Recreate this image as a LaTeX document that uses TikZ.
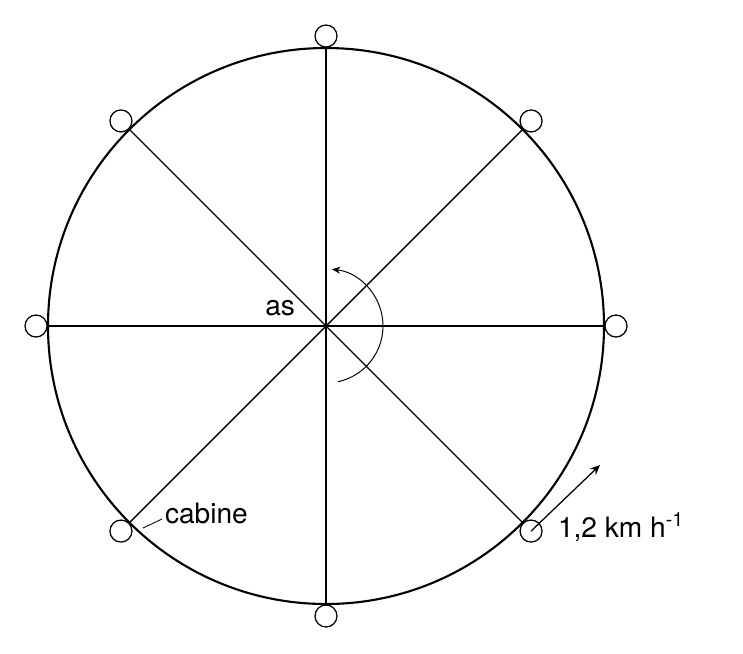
\documentclass[tikz,border=0pt]{standalone}
\usepackage{fontspec}
\setmainfont{TeX Gyre Heros}
\usetikzlibrary{arrows.meta}
\begin{document}
\begin{tikzpicture}[x=0.025cm,y=-0.025cm,inner sep=0pt,outer sep=0pt,
cabin/.style={draw,circle,minimum size=0.55cm,line width=0.9pt,fill=white},
spoke/.style={line width=1pt},
ring/.style={line width=1.5pt},
lbl/.style={font=\fontsize{20}{24}\selectfont}]
\useasboundingbox (0,0) rectangle (743,653);
\coordinate (C) at (326,326);
\draw[ring] (C) circle[radius=278];
% spokes and cabins
\foreach \a in {0,45,...,315} {
  \path (C) ++(\a:290) node[cabin] (cab\a) {};
  \draw[spoke] (C) -- (cab\a);
}
\fill (C) circle[radius=2.2];
% turning sense
\draw[line width=0.7pt,-{Stealth[length=6pt,width=5pt]}] (C) ++(78:57) arc[start angle=78,end angle=-84,radius=57];
\node[lbl,anchor=base east] (axis) at (295,315) {as};
% cabine
\node[lbl,anchor=base west] (cabtxt) at (165,523) {cabine};
\draw[line width=0.6pt] ([shift={(11,-3)}]cab135.east) -- ([shift={(-3,-4)}]cabtxt.base west);
% speed
\coordinate (vtip) at (600,465);
\draw[line width=0.9pt,-{Stealth[length=7pt,width=6pt]}] (cab45.center) -- (vtip);
\node[lbl,anchor=base west] (speed) at (558,537) {1,2 km h\textsuperscript{-1}};
\end{tikzpicture}
\end{document}
